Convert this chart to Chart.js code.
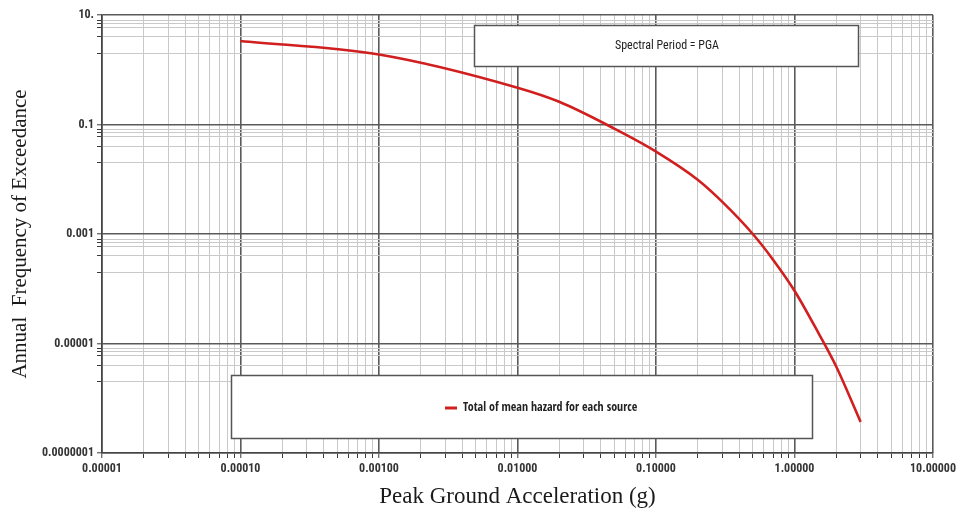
<!DOCTYPE html>
<html>
<head>
<meta charset="utf-8">
<title>Seismic hazard curve</title>
<script src="https://cdn.jsdelivr.net/npm/chart.js@4/dist/chart.umd.min.js"></script>
<style>
  html, body { margin: 0; padding: 0; background: #fff; }
  canvas { display: block; }
</style>
</head>
<body>
<canvas id="hazardChart" width="957" height="511"></canvas>
<script>
// Hazard curve: peak ground acceleration (g) against annual frequency of exceedance
const pga = [0.0001, 0.001, 0.01, 0.02, 0.05, 0.1, 0.2, 0.3, 0.5, 0.7, 1.0, 1.5, 2.0, 3.0];
const annualFreq = [3.35, 1.9, 0.47, 0.26, 0.084, 0.032, 0.0098, 0.0039, 0.001, 0.00034,
                    0.000092, 0.000015, 0.0000038, 0.00000037];

const xMajor = [0.00001, 0.0001, 0.001, 0.01, 0.1, 1, 10];
const xLabels = ['0.00001', '0.00010', '0.00100', '0.01000', '0.10000', '1.00000', '10.00000'];
const xMinorSteps = [2, 3, 4, 5, 6, 7, 8, 9];

const yMajor = [10, 0.1, 0.001, 0.00001, 0.0000001];
const yLabels = ['10.', '0.1', '0.001', '0.00001', '0.0000001'];
const yMinorSteps = [0.8, 0.7, 0.6, 0.4, 0.2];

const seriesLabel = 'Total of mean hazard for each source';
const periodLabel = 'Spectral Period = PGA';

const tickFont = { family: '"Roboto Condensed", "Liberation Sans", sans-serif', size: 12, weight: 'bold' };

function buildTicks(majors, labels, steps) {
    const ticks = [];
    majors.forEach((v, i) => {
        ticks.push({ value: v, major: true, label: labels[i] });
        if (i < majors.length - 1) {
            steps.forEach(s => ticks.push({ value: v * s, major: false, label: '' }));
        }
    });
    return ticks;
}

const gridStyle = {
    color: ctx => (ctx.tick && ctx.tick.major ? '#5a5a5a' : '#c9c9c9'),
    lineWidth: ctx => (ctx.tick && ctx.tick.major ? 1.6 : 1),
    tickColor: '#3a3a3a',
    tickWidth: 1,
    tickLength: 5
};

// boxes for the period note and the legend, drawn over the grid
const panelBoxes = {
    id: 'panelBoxes',
    afterDatasetsDraw(chart) {
        const ctx = chart.ctx;
        const ds = chart.data.datasets[0];
        ctx.save();

        function box(x, y, w, h) {
            ctx.fillStyle = '#fff';
            ctx.fillRect(x, y, w, h);
            ctx.strokeStyle = '#555';
            ctx.lineWidth = 1.5;
            ctx.strokeRect(x, y, w, h);
        }

        box(474.5, 25.5, 384, 41);
        ctx.fillStyle = '#222';
        ctx.font = '12px "Roboto Condensed", "Liberation Sans", sans-serif';
        ctx.textAlign = 'center';
        ctx.textBaseline = 'middle';
        ctx.fillText(periodLabel, 667, 46);

        box(231.5, 375.5, 581, 63);
        ctx.strokeStyle = ds.borderColor;
        ctx.lineWidth = 3;
        ctx.beginPath();
        ctx.moveTo(445, 408);
        ctx.lineTo(457, 408);
        ctx.stroke();
        ctx.fillStyle = '#222';
        ctx.font = 'bold 12px "Open Sans Condensed", "Roboto Condensed", sans-serif';
        ctx.textAlign = 'left';
        ctx.fillText(ds.label, 463, 408);

        ctx.restore();
    }
};

new Chart(document.getElementById('hazardChart'), {
    type: 'line',
    data: {
        datasets: [{
            label: seriesLabel,
            data: pga.map((x, i) => ({ x: x, y: annualFreq[i] })),
            borderColor: '#d11f1f',
            borderWidth: 2.6,
            pointRadius: 0,
            fill: false,
            cubicInterpolationMode: 'monotone'
        }]
    },
    options: {
        responsive: false,
        animation: false,
        devicePixelRatio: 1,
        layout: { padding: { top: 15, right: 24, left: 0, bottom: 0 } },
        plugins: {
            legend: { display: false },
            tooltip: { enabled: false }
        },
        scales: {
            x: {
                type: 'logarithmic',
                min: 0.00001,
                max: 10,
                afterBuildTicks: scale => { scale.ticks = buildTicks(xMajor, xLabels, xMinorSteps); },
                afterFit: scale => {
                    scale.height = 58;
                    // let the end labels overhang instead of shrinking the plot
                    scale.paddingLeft = 0;
                    scale.paddingRight = 0;
                },
                ticks: {
                    autoSkip: false,
                    maxRotation: 0,
                    padding: 4,
                    color: '#333',
                    font: tickFont,
                    callback: (value, index, ticks) => ticks[index].label
                },
                grid: gridStyle,
                border: { color: '#444', width: 1.6 },
                title: {
                    display: true,
                    text: 'Peak Ground Acceleration (g)',
                    color: '#1a1a1a',
                    font: { family: '"Liberation Serif", "Times New Roman", serif', size: 23 },
                    padding: { top: 0, bottom: 0 }
                }
            },
            y: {
                type: 'logarithmic',
                min: 0.0000001,
                max: 10,
                afterBuildTicks: scale => { scale.ticks = buildTicks(yMajor, yLabels, yMinorSteps); },
                afterFit: scale => { scale.width = 102; },
                ticks: {
                    autoSkip: false,
                    padding: 3,
                    color: '#333',
                    font: tickFont,
                    callback: (value, index, ticks) => ticks[index].label
                },
                grid: gridStyle,
                border: { color: '#444', width: 1.6 },
                title: {
                    display: true,
                    text: 'Annual  Frequency of Exceedance',
                    color: '#1a1a1a',
                    font: { family: '"Liberation Serif", "Times New Roman", serif', size: 21 },
                    padding: { top: 8, bottom: 0 }
                }
            }
        }
    },
    plugins: [panelBoxes]
});
</script>
</body>
</html>
